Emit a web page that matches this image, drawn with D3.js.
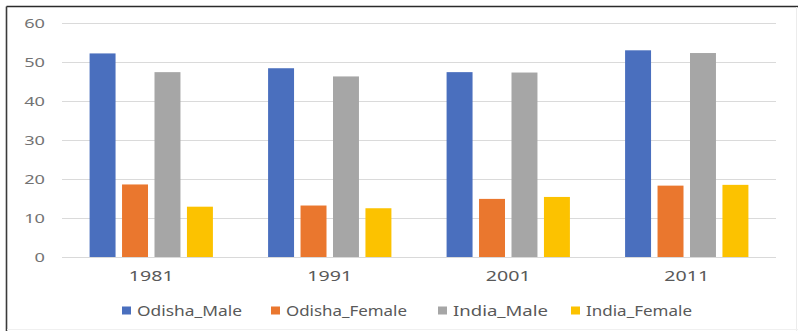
<!DOCTYPE html>
<html>
<head>
<meta charset="utf-8">
<script src="https://cdn.jsdelivr.net/npm/d3@7"></script>
<style>
  html, body { margin: 0; padding: 0; background: #fff; }
  svg { display: block; font-family: "Noto Sans", "Open Sans", sans-serif; }
</style>
</head>
<body>
<svg id="chart" width="798" height="331"></svg>
<script>
// Census years and the four series plotted for each
const years = ["1981", "1991", "2001", "2011"];
const seriesNames = ["Odisha_Male", "Odisha_Female", "India_Male", "India_Female"];
const odishaMale   = [52.2, 48.4, 47.4, 53.0];
const odishaFemale = [18.6, 13.2, 14.9, 18.3];
const indiaMale    = [47.4, 46.3, 47.3, 52.3];
const indiaFemale  = [12.9, 12.5, 15.4, 18.5];
const yTicks = [0, 10, 20, 30, 40, 50, 60];
const colors = ["#4A6FBE", "#EA772E", "#A6A6A6", "#FCC200"];

const seriesValues = [odishaMale, odishaFemale, indiaMale, indiaFemale];
const rows = years.map((yr, i) => ({
  year: yr,
  values: seriesNames.map((s, k) => ({ key: s, value: seriesValues[k][i] }))
}));

const svg = d3.select("#chart");
const W = 798, H = 331;
const margin = { top: 23, right: 22, bottom: 74, left: 62 };
const innerW = W - margin.left - margin.right;
const innerH = H - margin.top - margin.bottom;
const stretch = 1.4; // text is set wide

// Frame: dark top and left edges, faint right and bottom edges
svg.append("rect").attr("x", 0).attr("y", 0).attr("width", W).attr("height", H).attr("fill", "#fff");
svg.append("line").attr("x1", 6.5).attr("x2", W).attr("y1", 6.5).attr("y2", 6.5)
  .attr("stroke", "#2b2b2b").attr("stroke-width", 1.6);
svg.append("line").attr("x1", 6.5).attr("x2", 6.5).attr("y1", 6.5).attr("y2", H)
  .attr("stroke", "#3a3a3a").attr("stroke-width", 1.6);
svg.append("line").attr("x1", 796.5).attr("x2", 796.5).attr("y1", 7).attr("y2", H)
  .attr("stroke", "#ececec").attr("stroke-width", 1);
svg.append("line").attr("x1", 7).attr("x2", W).attr("y1", 329.5).attr("y2", 329.5)
  .attr("stroke", "#f0f0f0").attr("stroke-width", 1);

const g = svg.append("g").attr("transform", `translate(${margin.left},${margin.top})`);

const x0 = d3.scaleBand().domain(years).range([0, innerW]).padding(0);
const x1 = d3.scaleBand().domain(seriesNames).range([0, x0.bandwidth()])
  .paddingInner(0.2).paddingOuter(0.85);
const y = d3.scaleLinear().domain([0, 60]).range([innerH, 0]);

// Horizontal gridlines with tick labels
const yAxis = d3.axisLeft(y).tickValues(yTicks).tickSize(-innerW).tickPadding(17);
const ya = g.append("g").call(yAxis);
ya.select(".domain").remove();
ya.selectAll(".tick line").attr("stroke", "#dadada").attr("stroke-width", 1.2);
ya.selectAll(".tick text").attr("fill", "#737373").attr("font-size", 13)
  .attr("font-family", "Noto Sans, sans-serif")
  .attr("x", -17 / stretch)
  .attr("transform", `scale(${stretch},1)`);

// Bars
const groups = g.selectAll(".grp").data(rows).join("g")
  .attr("class", "grp")
  .attr("transform", d => `translate(${x0(d.year)},0)`);
groups.selectAll("rect").data(d => d.values).join("rect")
  .attr("x", d => x1(d.key))
  .attr("width", x1.bandwidth())
  .attr("y", d => y(d.value))
  .attr("height", d => y(0) - y(d.value))
  .attr("fill", (d, i) => colors[i]);

// Baseline
g.append("line").attr("x1", 0).attr("x2", innerW).attr("y1", y(0) + 0.5).attr("y2", y(0) + 0.5)
  .attr("stroke", "#d9d9d9").attr("stroke-width", 1.2);

// Category labels
const xAxis = d3.axisBottom(x0).tickSize(0).tickPadding(14);
const xa = g.append("g").attr("transform", `translate(0,${innerH})`).call(xAxis);
xa.select(".domain").remove();
xa.selectAll(".tick text").attr("fill", "#595959").attr("font-size", 14)
  .attr("font-family", "Noto Sans, sans-serif")
  .attr("transform", `scale(${stretch},1)`);

// Legend
const legendX = [122, 271, 438, 571];
const legendW = [105, 121, 95, 106];
const legend = svg.append("g").attr("transform", "translate(0,311)");
const items = legend.selectAll("g").data(seriesNames).join("g")
  .attr("transform", (d, i) => `translate(${legendX[i]},0)`);
items.append("rect").attr("x", 0).attr("y", -4.5).attr("width", 9).attr("height", 8)
  .attr("fill", (d, i) => colors[i]);
items.append("text").attr("x", 15).attr("y", 0).attr("dy", "0.35em")
  .attr("fill", "#595959").attr("font-size", 14)
  .attr("textLength", (d, i) => legendW[i]).attr("lengthAdjust", "spacingAndGlyphs")
  .text(d => d);
</script>
</body>
</html>
